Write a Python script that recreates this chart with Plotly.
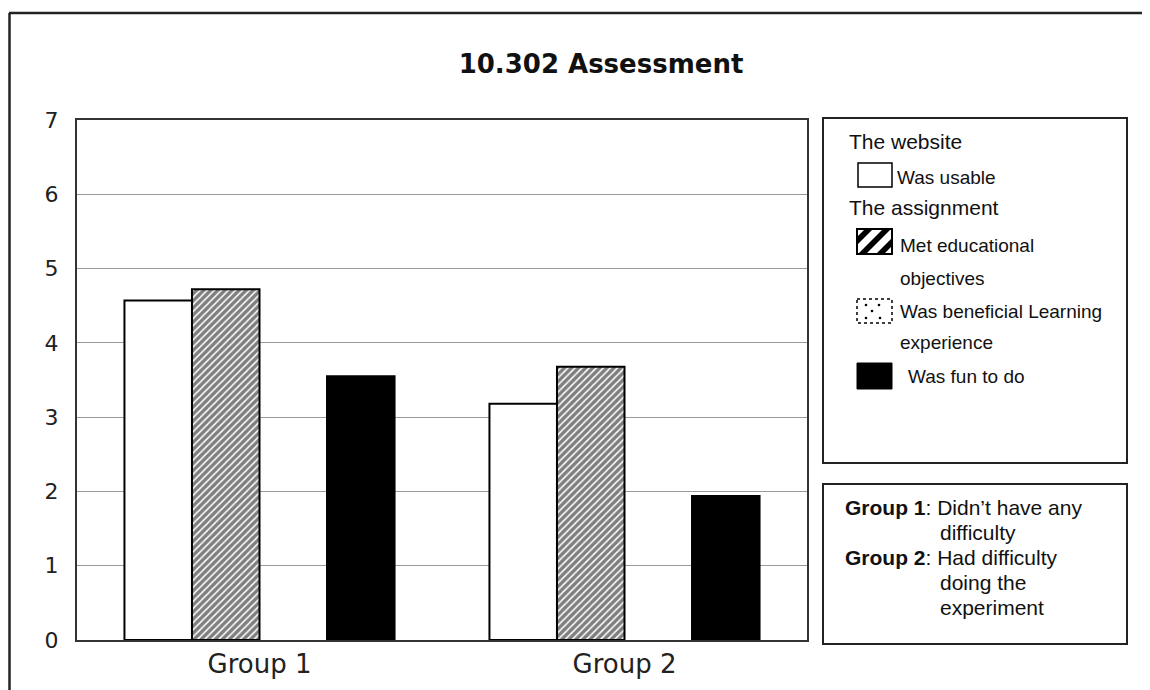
import plotly.graph_objects as go

groups = ["Group 1", "Group 2"]
series_names = [
    "Was usable",
    "Met educational objectives",
    "Was beneficial Learning experience",
    "Was fun to do",
]
was_usable = [4.57, 3.18]
met_objectives = [4.72, 3.68]
beneficial = [None, None]
fun_to_do = [3.55, 1.94]
y_ticks = [0, 1, 2, 3, 4, 5, 6, 7]

OFF = 8  # page body margin
W, H = 1150 - OFF, 690 - OFF
PL, PR, PT, PB = 77, 807, 120, 640  # plot area in page pixels


def fx(px):
    return (px - PL) / (PR - PL)


def fy(py):
    return (PB - py) / (PB - PT)


def poly(points):
    return "M " + " L ".join(f"{fx(x):.5f},{fy(y):.5f}" for x, y in points) + " Z"


fig = go.Figure()

fig.add_trace(go.Bar(
    x=groups, y=was_usable, name=series_names[0],
    marker=dict(color="white", line=dict(color="black", width=2)),
))
fig.add_trace(go.Bar(
    x=groups, y=met_objectives, name=series_names[1],
    marker=dict(color="white", line=dict(color="black", width=2),
                pattern=dict(shape="/", size=5, solidity=0.7, fgcolor="black", bgcolor="white")),
))
fig.add_trace(go.Bar(
    x=groups, y=beneficial, name=series_names[2],
    marker=dict(color="white", line=dict(color="black", width=2),
                pattern=dict(shape=".", size=8, solidity=0.2, fgcolor="black", bgcolor="white")),
))
fig.add_trace(go.Bar(
    x=groups, y=fun_to_do, name=series_names[3],
    marker=dict(color="black", line=dict(color="black", width=2)),
))

shapes = []
# outer frame (top and left edges visible)
shapes.append(dict(type="line", xref="paper", yref="paper", x0=fx(9), y0=fy(13), x1=fx(1170), y1=fy(13),
                   line=dict(color="#222", width=2.5)))
shapes.append(dict(type="line", xref="paper", yref="paper", x0=fx(9.5), y0=fy(13), x1=fx(9.5), y1=fy(710),
                   line=dict(color="#222", width=2.5)))
# legend boxes
shapes.append(dict(type="rect", xref="paper", yref="paper", x0=fx(823), y0=fy(118), x1=fx(1127), y1=fy(463),
                   line=dict(color="#222", width=2)))
shapes.append(dict(type="rect", xref="paper", yref="paper", x0=fx(823), y0=fy(484), x1=fx(1127), y1=fy(644),
                   line=dict(color="#222", width=2)))
# swatch: was usable
shapes.append(dict(type="rect", xref="paper", yref="paper", x0=fx(858), y0=fy(163), x1=fx(892), y1=fy(187),
                   line=dict(color="black", width=1.5), fillcolor="white"))
# swatch: hatched
shapes.append(dict(type="rect", xref="paper", yref="paper", x0=fx(857), y0=fy(229), x1=fx(892), y1=fy(254),
                   line=dict(color="black", width=2), fillcolor="white"))
for pts in [
    [(857, 237), (865, 229), (873, 229), (857, 245)],
    [(858, 254), (883, 229), (891, 229), (866, 254)],
    [(876, 254), (892, 238), (892, 246), (884, 254)],
]:
    shapes.append(dict(type="path", xref="paper", yref="paper", path=poly(pts),
                       fillcolor="black", line=dict(width=0)))
# swatch: dotted
shapes.append(dict(type="rect", xref="paper", yref="paper", x0=fx(857), y0=fy(299), x1=fx(892), y1=fy(323),
                   line=dict(color="black", width=1.5, dash="dot"), fillcolor="white"))
for cx, cy in [(866, 305), (879, 305), (872, 311), (866, 318), (880, 318)]:
    shapes.append(dict(type="circle", xref="paper", yref="paper",
                       x0=fx(cx - 1.3), y0=fy(cy - 1.3), x1=fx(cx + 1.3), y1=fy(cy + 1.3),
                       fillcolor="black", line=dict(width=0)))
# swatch: black
shapes.append(dict(type="rect", xref="paper", yref="paper", x0=fx(857), y0=fy(363), x1=fx(892), y1=fy(389),
                   line=dict(color="black", width=1), fillcolor="black"))

legend_font = dict(family="Liberation Sans, Arial, sans-serif", size=19, color="#111")
head_font = dict(family="Liberation Sans, Arial, sans-serif", size=21, color="#111")
note_font = dict(family="Liberation Sans, Arial, sans-serif", size=21, color="#111")

texts = [
    ("The website", 847, 142, head_font),
    ("Was usable", 895, 177, legend_font),
    ("The assignment", 847, 208, head_font),
    ("Met educational", 898, 245, legend_font),
    ("objectives", 898, 278, legend_font),
    ("Was beneficial Learning", 898, 311, legend_font),
    ("experience", 898, 342, legend_font),
    ("Was fun to do", 906, 376, legend_font),
    ("<b>Group 1</b>: Didn\u2019t have any", 843, 507, note_font),
    ("difficulty", 938, 532, note_font),
    ("<b>Group 2</b>: Had difficulty", 843, 557, note_font),
    ("doing the", 938, 582, note_font),
    ("experiment", 938, 607, note_font),
]
annotations = [
    dict(text=t, x=fx(x), y=fy(y), xref="paper", yref="paper", xanchor="left", yanchor="middle",
         showarrow=False, font=f)
    for t, x, y, f in texts
]

fig.update_layout(
    width=W, height=H,
    barmode="group", bargap=0.26, bargroupgap=0,
    showlegend=False,
    paper_bgcolor="white", plot_bgcolor="white",
    margin=dict(l=PL - OFF, r=W - (PR - OFF), t=PT - OFF, b=H - (PB - OFF), autoexpand=False),
    title=dict(text="<b>10.302 Assessment</b>", x=(601 - OFF) / W, xanchor="center", xref="container",
               y=1 - (64 - OFF) / H, yanchor="middle",
               font=dict(family="DejaVu Sans, Verdana, sans-serif", size=26, color="#111")),
    shapes=shapes,
    annotations=annotations,
    font=dict(family="DejaVu Sans, Verdana, sans-serif", color="#222"),
)
fig.update_xaxes(
    showline=True, mirror=True, linecolor="#333", linewidth=2,
    tickfont=dict(size=26, color="#222"), ticks="", showgrid=False,
    ticklabelstandoff=0,
)
fig.update_yaxes(
    range=[0, 7], tickvals=y_ticks, showline=True, mirror=True, linecolor="#333", linewidth=2,
    showgrid=True, gridcolor="#9a9a9a", gridwidth=1, zeroline=False,
    tickfont=dict(size=22, color="#222"), ticks="", ticklabelstandoff=12,
)

fig.write_html("out.html")
